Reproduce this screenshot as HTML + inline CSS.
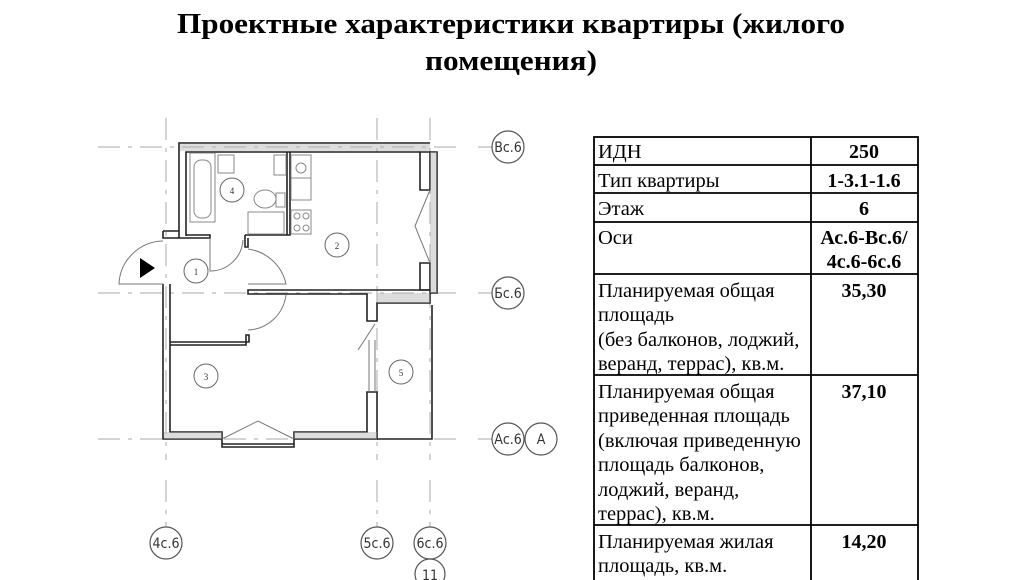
<!DOCTYPE html>
<html><head><meta charset="utf-8"><style>
html,body{margin:0;padding:0;background:#fff;width:1024px;height:580px;overflow:hidden}
svg{display:block}
text{font-family:"Liberation Serif",serif}
.ax{font-family:"DejaVu Sans Condensed","Liberation Sans",sans-serif;font-size:14px;fill:#333}
</style></head><body>
<svg width="1024" height="580" viewBox="0 0 1024 580" xmlns="http://www.w3.org/2000/svg">
<text x="511" y="33" text-anchor="middle" font-size="29" font-weight="bold" textLength="668" lengthAdjust="spacingAndGlyphs">Проектные характеристики  квартиры (жилого</text>
<text x="511" y="70" text-anchor="middle" font-size="29" font-weight="bold" textLength="172" lengthAdjust="spacingAndGlyphs">помещения)</text>

<g stroke="#aaa" stroke-width="1" stroke-dasharray="22 8 4 8" fill="none">
<line x1="166" y1="118" x2="166" y2="460"/><line x1="166" y1="480" x2="166" y2="527"/>
<line x1="377" y1="118" x2="377" y2="460"/><line x1="377" y1="480" x2="377" y2="527"/>
<line x1="430" y1="118" x2="430" y2="460"/><line x1="430" y1="480" x2="430" y2="527"/>
<line x1="98" y1="147" x2="460" y2="147"/><line x1="478" y1="147" x2="492" y2="147"/>
<line x1="98" y1="293" x2="460" y2="293"/><line x1="478" y1="293" x2="492" y2="293"/>
<line x1="98" y1="439" x2="460" y2="439"/><line x1="478" y1="439" x2="492" y2="439"/>
</g>
<g fill="#fff" stroke="#555" stroke-width="1.2">
<circle cx="508" cy="147" r="16"/><circle cx="508" cy="293" r="16"/><circle cx="508" cy="439" r="16"/>
<circle cx="541" cy="439" r="16"/>
<circle cx="166" cy="543" r="16"/><circle cx="377" cy="543" r="16"/><circle cx="430" cy="543" r="16"/>
<circle cx="430" cy="574" r="15"/>
</g>
<g class="ax" text-anchor="middle">
<text class="ax" x="508" y="152">Вс.6</text><text class="ax" x="508" y="298">Бс.6</text><text class="ax" x="508" y="444">Ас.6</text>
<text class="ax" x="541" y="444">А</text>
<text class="ax" x="166" y="548">4с.6</text><text class="ax" x="377" y="548">5с.6</text><text class="ax" x="430" y="548">6с.6</text>
<text class="ax" x="430" y="580">11</text>
</g>

<g fill="none" stroke="#222" stroke-width="1.6">
<path d="M179 238 V143 H430 M186 236 V152 H420"/>
<path d="M163 231 H179 M163 231 V238 H186"/>
<path d="M163 284 V439 H222 M170 284 V432 H222 V439"/>
<path d="M294 439 H377 V392 H367 V432 H294 Z"/>
<path d="M186 235 H210 V238 H186"/>
<path d="M245 235 H290 V152 M287 152 V235"/>
<path d="M245 235 V247 H248 V238"/>
<path d="M248 290 H366 V290 H430 V303 H377 V321 H367 V294 H248 Z"/>
<path d="M170 342 H249 V335 H246 V345 H170"/>
<path d="M420 152 H430 V190 H420 Z"/>
<path d="M420 263 H430 V290 H420 Z"/>
<path d="M377 439 H432 V305"/>
<path d="M430 152 H437 V293 H430"/>
<path d="M222 439 V447 H294 V439 M222 444 H294"/>
</g>
<g fill="#aaa" opacity="0.4">
<rect x="180" y="144" width="250" height="7"/>
<rect x="164" y="432" width="58" height="7"/>
<rect x="294" y="432" width="83" height="7"/>
<rect x="430" y="152" width="7" height="141"/>
<rect x="377" y="293" width="53" height="10"/>
</g>

<g fill="none" stroke="#777" stroke-width="1">
<path d="M163 241 A45 45 0 0 0 119 284 H163"/>
<path d="M210 238 V271 A33 33 0 0 0 243 240"/>
<path d="M248 249 A45 45 0 0 1 286 284 H248"/>
<path d="M248 330 A40 40 0 0 0 286 295"/>
<path d="M222 439 L258 421 L294 439"/>
<path d="M430 190 L415 226 L430 263"/>
<path d="M375 324 L358 350"/>
<path d="M369 340 V392 M375 340 V392"/>
</g>
<polygon points="140,258 140,278 155,268" fill="#000"/>

<g fill="none" stroke="#888" stroke-width="1">
<rect x="190" y="153" width="25" height="69"/><rect x="194" y="160" width="17" height="58" rx="7"/>
<rect x="218" y="155" width="16" height="18"/>
<rect x="274" y="155" width="12" height="20"/>
<ellipse cx="265" cy="199" rx="11" ry="9"/><rect x="276" y="193" width="9" height="14"/>
<rect x="248" y="212" width="36" height="22"/>
<rect x="291" y="155" width="20" height="23"/><circle cx="301" cy="168" r="5"/>
<rect x="291" y="178" width="20" height="22"/>
<rect x="291" y="210" width="20" height="24"/>
<circle cx="297" cy="216" r="3"/><circle cx="306" cy="216" r="3"/><circle cx="297" cy="228" r="3"/><circle cx="306" cy="228" r="3"/>
</g>
<g fill="#fff" stroke="#666" stroke-width="1">
<circle cx="196" cy="271" r="12"/><circle cx="337" cy="245" r="12"/><circle cx="206" cy="376" r="12"/>
<circle cx="232" cy="190" r="12"/><circle cx="401" cy="372" r="12"/>
</g>
<g font-family="DejaVu Sans Condensed,sans-serif" font-size="9" fill="#333" text-anchor="middle">
<text x="196" y="275">1</text><text x="337" y="249">2</text><text x="206" y="380">3</text><text x="232" y="194">4</text><text x="401" y="376">5</text>
</g>

<g stroke="#000" stroke-width="1.8" fill="none">
<rect x="594" y="137" width="324" height="445"/>
<line x1="811" y1="137" x2="811" y2="582"/>
<line x1="594" y1="165" x2="918" y2="165"/>
<line x1="594" y1="193" x2="918" y2="193"/>
<line x1="594" y1="222" x2="918" y2="222"/>
<line x1="594" y1="274" x2="918" y2="274"/>
<line x1="594" y1="375" x2="918" y2="375"/>
<line x1="594" y1="525" x2="918" y2="525"/>
</g>
<g font-size="20.5" fill="#000">
<text x="598" y="158">ИДН</text>
<text x="598" y="187">Тип квартиры</text>
<text x="598" y="215">Этаж</text>
<text x="598" y="244">Оси</text>
<text x="598" y="297">Планируемая общая</text>
<text x="598" y="321">площадь</text>
<text x="598" y="346">(без балконов, лоджий,</text>
<text x="598" y="370">веранд, террас), кв.м.</text>
<text x="598" y="398">Планируемая общая</text>
<text x="598" y="422">приведенная площадь</text>
<text x="598" y="447">(включая приведенную</text>
<text x="598" y="471">площадь балконов,</text>
<text x="598" y="496">лоджий, веранд,</text>
<text x="598" y="520">террас), кв.м.</text>
<text x="598" y="548">Планируемая жилая</text>
<text x="598" y="572">площадь, кв.м.</text>
</g>
<g font-size="20" font-weight="bold" text-anchor="middle" fill="#000">
<text x="864" y="158">250</text>
<text x="864" y="187">1-3.1-1.6</text>
<text x="864" y="215">6</text>
<text x="864" y="244">Ас.6-Вс.6/</text>
<text x="864" y="268">4с.6-6с.6</text>
<text x="864" y="297">35,30</text>
<text x="864" y="398">37,10</text>
<text x="864" y="548">14,20</text>
</g>
</svg>
</body></html>
